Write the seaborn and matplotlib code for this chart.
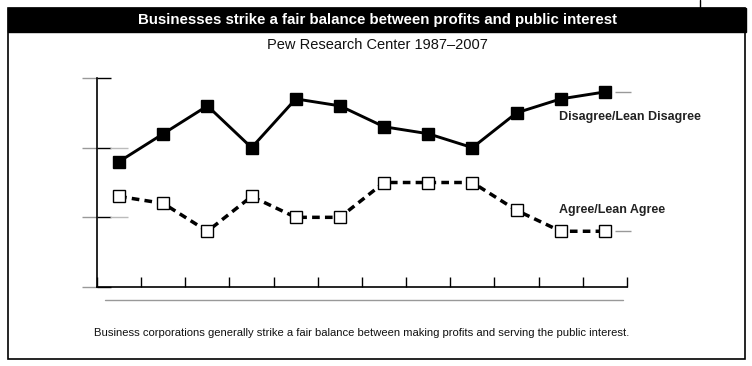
import pandas as pd
import seaborn as sns
import matplotlib.pyplot as plt
from matplotlib.patches import Rectangle
from matplotlib.lines import Line2D

# survey waves (not labelled on the chart)
years = ["1987", "1988", "1990", "1991", "1992", "1994",
         "1997", "1999", "2000", "2002", "2003", "2007"]
disagree = [48, 52, 56, 50, 57, 56, 53, 52, 50, 55, 57, 58]
agree = [43, 42, 38, 43, 40, 40, 45, 45, 45, 41, 38, 38]
y_ticks = [30, 40, 50, 60]

df = pd.DataFrame({"year": years, "pos": range(len(years)),
                   "disagree": disagree, "agree": agree})

sns.set_style("white")
plt.rcParams['font.family'] = ['Liberation Sans Narrow', 'Liberation Sans', 'DejaVu Sans']

fig = plt.figure(figsize=(7.52, 3.66), dpi=100)
ax = fig.add_axes([97 / 752, 79 / 366, 530 / 752, 209 / 366])

# Disagree line: solid, filled squares
sns.lineplot(data=df, x="pos", y="disagree", ax=ax, color="black", lw=2.1,
             marker="s", markersize=8, markerfacecolor="black",
             markeredgecolor="black", markeredgewidth=1)
# Agree line: dashed, open squares
sns.lineplot(data=df, x="pos", y="agree", ax=ax, color="black", lw=2.5,
             linestyle=(0, (2.2, 1.5)), marker="s", markersize=8,
             markerfacecolor="white", markeredgecolor="black", markeredgewidth=1)

n = len(years)
ax.set_xlim(-0.5, n - 0.5)
ax.set_ylim(y_ticks[0], y_ticks[-1])
ax.set_xticks([i - 0.5 for i in range(n + 1)])
ax.set_yticks(y_ticks)
ax.set_xticklabels([])
ax.set_yticklabels([])
ax.set_xlabel("")
ax.set_ylabel("")
ax.tick_params(axis="both", direction="in", width=1, color="black")
ax.tick_params(axis="x", bottom=True, length=7)
ax.tick_params(axis="y", left=True, length=10)
for s in ["top", "right"]:
    ax.spines[s].set_visible(False)
for s in ["left", "bottom"]:
    ax.spines[s].set_color("black")
    ax.spines[s].set_linewidth(1.2)

# gray outer ticks on the y axis
ax.hlines(y_ticks, -15 / 530, 0, transform=ax.get_yaxis_transform(),
          color="#999999", lw=1, clip_on=False)
ax.hlines(y_ticks[1:3], 13 / 530, 31 / 530, transform=ax.get_yaxis_transform(),
          color="#bbbbbb", lw=1, clip_on=False)
# gray stubs after the last points
ax.hlines([disagree[-1], agree[-1]], n - 0.77, n - 0.41, color="#999999", lw=1,
          clip_on=False)
# gray rule under the axis
ax.plot([0.015, 0.992], [-0.062, -0.062], transform=ax.transAxes,
        color="#999999", lw=1, clip_on=False)

# series labels
ax.text(9.96, 54.4, "Disagree/Lean Disagree", family=["Liberation Sans", "DejaVu Sans"],
        fontsize=9, fontweight="bold", color="#222222", va="center", ha="left")
ax.text(9.96, 41.05, "Agree/Lean Agree", family=["Liberation Sans", "DejaVu Sans"],
        fontsize=9, fontweight="bold", color="#222222", va="center", ha="left")

# frame and title bar
fig.patches.append(Rectangle((8 / 752, 7 / 366), 737 / 752, 351 / 366,
                             transform=fig.transFigure, fill=False,
                             edgecolor="black", lw=1.2))
fig.patches.append(Rectangle((8 / 752, 1 - 32 / 366), 738 / 752, 24 / 366,
                             transform=fig.transFigure, facecolor="black",
                             edgecolor="black"))
fig.lines.append(Line2D([700 / 752, 700 / 752], [1, 1 - 8 / 366],
                        transform=fig.transFigure, color="black", lw=1))

fig.text(378 / 752, 1 - 20 / 366,
         "Businesses strike a fair balance between profits and public interest",
         color="white", fontsize=10.8, fontweight="bold", ha="center", va="center")
fig.text(377 / 752, 1 - 45 / 366, "Pew Research Center 1987\u20132007",
         color="#111111", fontsize=10.5, ha="center", va="center")
fig.text(362 / 752, 1 - 333 / 366,
         "Business corporations generally strike a fair balance between making "
         "profits and serving the public interest.",
         color="#111111", fontsize=8.1, ha="center", va="center")

fig.savefig("out.png", dpi=100, facecolor="white")
